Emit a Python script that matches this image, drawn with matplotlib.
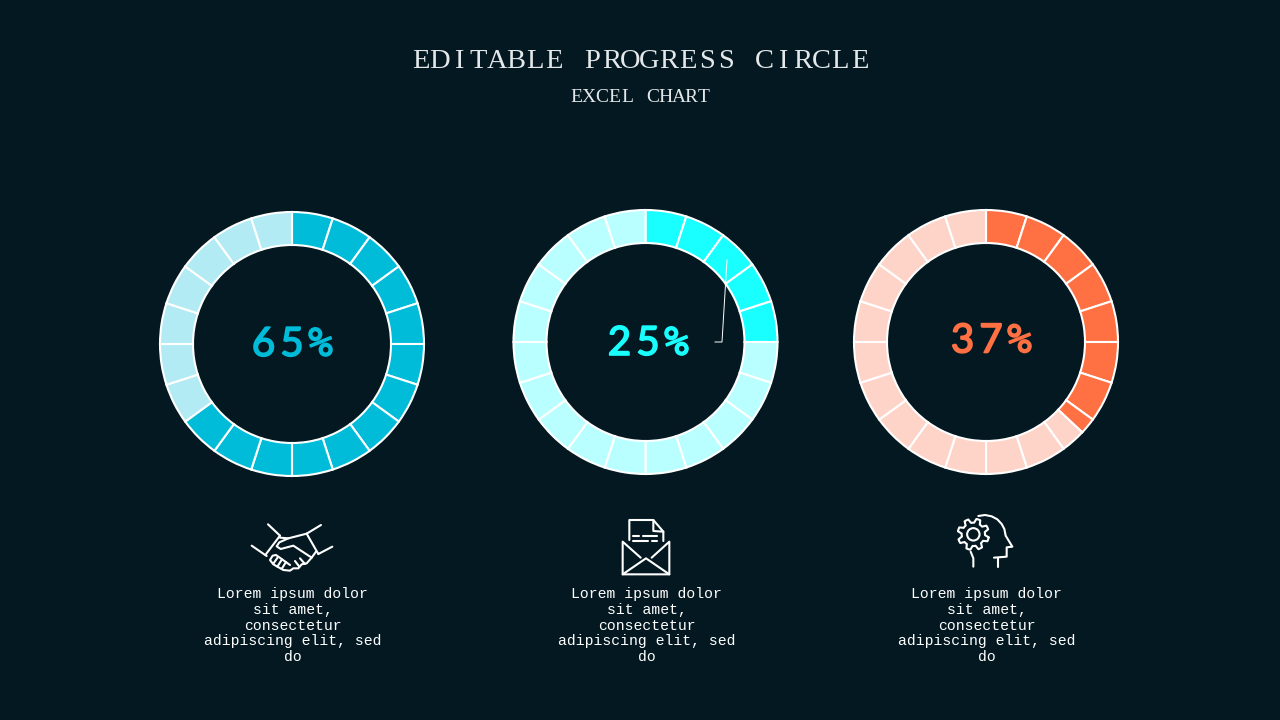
import numpy as np
import matplotlib
matplotlib.use("Agg")
import matplotlib.pyplot as plt
import matplotlib.patheffects as pe
from matplotlib.patches import Circle

title = "EDITABLE PROGRESS CIRCLE"
subtitle = "EXCEL CHART"
progress = [65, 25, 37]
pct_labels = ["65%", "25%", "37%"]
segment_size = 5  # every ring has 20 blocks of 5%
colors = ["#00BCD9", "#19FFFF", "#FF7043"]
pale_colors = ["#B3EBF4", "#BAFFFF", "#FFD4C8"]
caption = ["Lorem ipsum dolor", "sit amet,", "consectetur", "adipiscing elit, sed", "do"]

ring_x = [292, 645.5, 986]
ring_y = [344, 342, 342]
text_x = [292.5, 646.5, 986.5]
pct_x = [292, 648, 991]
pct_base = [356, 355, 352.5]
icon_off = [(240, 505), (600, 505), (940, 505)]
R_OUT = 132
BG = "#031820"
W, H = 1280, 720


def split_blocks(value):
    # sizes of the blocks and which of them are filled
    sizes, cols = [], []
    done = 0
    while done < 100:
        end = done + segment_size
        if done < value < end:
            sizes += [value - done, end - value]
            cols += [True, False]
        else:
            sizes.append(segment_size)
            cols.append(end <= value)
        done = end
    return sizes, cols


fig = plt.figure(figsize=(12.8, 7.2), dpi=100, facecolor=BG)

# rings
for i in range(3):
    cx, cy = ring_x[i], ring_y[i]
    ax = fig.add_axes([(cx - R_OUT - 4) / W, (H - cy - R_OUT - 4) / H,
                       (2 * R_OUT + 8) / W, (2 * R_OUT + 8) / H])
    sizes, filled = split_blocks(progress[i])
    cols = [colors[i] if f else pale_colors[i] for f in filled]
    ax.pie(sizes, colors=cols, startangle=90, counterclock=False, radius=1,
           wedgeprops=dict(width=33 / R_OUT, edgecolor="white", linewidth=1.5))
    lim = (R_OUT + 4) / R_OUT
    ax.set_xlim(-lim, lim)
    ax.set_ylim(-lim, lim)
    ax.axis("off")

# overlay in pixel coordinates for texts and icons
ov = fig.add_axes([0, 0, 1, 1], facecolor="none")
ov.set_xlim(0, W)
ov.set_ylim(H, 0)
ov.axis("off")


def typewriter(s, base, pitch, size):
    # no courier here, so serif letters on a fixed pitch
    for k, ch in enumerate(s):
        ov.text(640 + (k - (len(s) - 1) / 2) * pitch, base, ch, family="Liberation Serif",
                fontsize=size, color="#E4E8EA", ha="center", va="baseline")


typewriter(title, 68.5, 19.08, 20.5)
typewriter(subtitle, 102.5, 12.8, 14)

for i in range(3):
    # number, spaced a bit wider than the font does
    for k, ch in enumerate(pct_labels[i]):
        fam = "DejaVu Sans Mono" if ch == "%" else "Lato"
        ov.text(pct_x[i] + (k - 1) * 28.5, pct_base[i], ch, family=fam, fontsize=29,
                color=colors[i], ha="center", va="baseline",
                path_effects=[pe.withStroke(linewidth=1.2, foreground=colors[i])])
    for j, line in enumerate(caption):
        ov.text(text_x[i], 594 + 15.75 * j, line, family="Liberation Mono", fontsize=10.6,
                color="white", ha="center", va="center")

# leader line left on the middle ring
ov.plot([727, 722, 715], [260, 342, 342], color="white", lw=0.7)


def stroke(off, pts, lw=1.5):
    pts = np.array(pts, dtype=float) / 3
    ov.plot(pts[:, 0] + off[0], pts[:, 1] + off[1], color="white", lw=lw,
            solid_capstyle="round", solid_joinstyle="round")


# handshake
off = icon_off[0]
stroke(off, [(84, 58), (120, 92)])
stroke(off, [(35, 122), (80, 153)])
stroke(off, [(120, 92), (76, 150)])
stroke(off, [(243, 60), (200, 86)])
stroke(off, [(277, 125), (235, 147)])
stroke(off, [(200, 86), (235, 147)])
stroke(off, [(120, 98), (145, 100), (200, 86)])
stroke(off, [(145, 100), (118, 112), (110, 124), (122, 132), (160, 122), (215, 158)])
stroke(off, [(228, 140), (215, 158), (200, 175), (185, 178), (175, 190), (160, 190),
             (150, 197), (130, 195), (100, 178), (90, 165), (98, 152), (108, 150),
             (150, 180)])
for a, b in [((100, 176), (114, 156)), ((112, 185), (126, 163)), ((125, 192), (138, 171)),
             ((165, 168), (178, 185)), ((180, 160), (195, 177))]:
    stroke(off, [a, b])

# envelope with sheet
off = icon_off[1]
stroke(off, [(88, 105), (88, 45), (160, 45), (190, 80), (190, 108)])
stroke(off, [(160, 45), (160, 78), (190, 80)])
stroke(off, [(100, 92), (118, 92)])
stroke(off, [(128, 92), (172, 92)])
stroke(off, [(100, 107), (145, 107)])
stroke(off, [(155, 107), (172, 107)])
stroke(off, [(122, 158), (68, 110), (68, 208), (208, 208), (208, 110), (155, 158)])
stroke(off, [(68, 208), (138, 160), (208, 208)])

# head with gear
off = icon_off[2]
stroke(off, [(115, 33), (135, 30), (155, 34), (172, 43), (185, 57), (193, 72), (197, 92),
             (217, 125), (200, 127), (200, 155), (162, 158)])
stroke(off, [(175, 158), (175, 185)])
stroke(off, [(92, 140), (100, 160), (100, 185)])
ov.add_patch(Circle((off[0] + 100 / 3, off[1] + 88 / 3), 6.2, fill=False, ec="white", lw=1.5))
gear_ang = np.deg2rad(np.arange(0, 360, 7.5) + 22.5 / 2)
gear_r = np.where(np.arange(len(gear_ang)) % 6 < 3, 47, 35)
gx = 100 + gear_r * np.cos(gear_ang)
gy = 88 + gear_r * np.sin(gear_ang)
stroke(off, list(zip(np.append(gx, gx[0]), np.append(gy, gy[0]))))

fig.savefig("out.png", dpi=100, facecolor=BG)
